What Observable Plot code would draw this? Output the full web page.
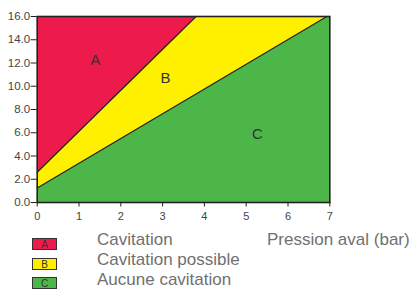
<!DOCTYPE html>
<html><head><meta charset="utf-8">
<script src="https://cdn.jsdelivr.net/npm/d3@7"></script>
<script src="https://cdn.jsdelivr.net/npm/@observablehq/plot@0.6"></script>
<style>
body{margin:0;background:#fff;font-family:"Liberation Sans",Arial,sans-serif;}
#wrap{position:relative;width:414px;height:291px;overflow:hidden;}
#legend{position:absolute;left:0;top:226px;width:414px;height:65px;}
.sw{position:absolute;left:32px;width:23px;height:10px;border:1px solid #333;font-size:10px;line-height:11px;text-align:center;color:#333;}
.lt{position:absolute;font-size:17px;line-height:20px;color:#707070;white-space:nowrap;}
</style></head>
<body><div id="wrap"><div id="chart"></div><div id="legend"></div></div>
<script>
// Boundary lines
const redLine = [{x: 0, y: 2.6}, {x: 3.8, y: 16}];
const yellowLine = [{x: 0, y: 1.25}, {x: 6.93, y: 16}];
const xTicks = [0, 1, 2, 3, 4, 5, 6, 7];
const yTicks = [0, 2, 4, 6, 8, 10, 12, 14, 16];
const regionNames = ["A", "B", "C"];
const regionColors = ["#ED1B4B", "#FFF000", "#4CB748"];
const regionLabels = ["Cavitation", "Cavitation possible", "Aucune cavitation"];
const labelPos = [{x: 1.39, y: 12.2}, {x: 3.07, y: 10.7}, {x: 5.27, y: 5.9}];
const xTitle = "Pression aval (bar)";
const xMax = 7, yMax = 16;

const polys = [
  // A
  [{x:0,y:yMax}, redLine[0], redLine[1]].map(p => ({...p, r: "A"})),
  // B
  [redLine[0], yellowLine[0], yellowLine[1], redLine[1]].map(p => ({...p, r: "B"})),
  // C
  [{x:0,y:0}, {x:xMax,y:0}, {x:xMax,y:yMax}, yellowLine[1], yellowLine[0]].map(p => ({...p, r: "C"}))
].flat();

const labels = regionNames.map((n, i) => ({...labelPos[i], t: n}));

const chart = Plot.plot({
  width: 414, height: 226,
  marginLeft: 36.7, marginRight: 84.7, marginTop: 16, marginBottom: 24,
  style: {fontFamily: '"Liberation Sans", Arial, sans-serif', background: "white"},
  x: {domain: [0, xMax], ticks: xTicks, tickFormat: d => d.toFixed(0), tickSize: 4.5, tickPadding: 5, label: null},
  y: {domain: [0, yMax], ticks: yTicks, tickFormat: d => d.toFixed(1), tickSize: 6, tickPadding: 1, label: null},
  color: {domain: regionNames, range: regionColors},
  marks: [
    Plot.line(polys, {x: "x", y: "y", z: "r", fill: "r", stroke: null}),
    Plot.line(redLine, {x: "x", y: "y", stroke: "#222", strokeWidth: 1.2}),
    Plot.line(yellowLine, {x: "x", y: "y", stroke: "#222", strokeWidth: 1.2}),
    Plot.text(labels, {x: "x", y: "y", text: "t", fontSize: 15, fill: "#333"}),
    Plot.frame({stroke: "#222", strokeWidth: 1.6}),
    Plot.axisX({ticks: xTicks, tickFormat: d => d.toFixed(0), tickSize: 4.5, tickPadding: 5, fontSize: 11, color: "#444", stroke: "#222", label: null}),
    Plot.axisY({ticks: yTicks, tickFormat: d => d.toFixed(1), tickSize: 6, tickPadding: 1, fontSize: 11.5, color: "#444", stroke: "#222", label: null})
  ]
});
document.getElementById("chart").appendChild(chart);

const lg = document.getElementById("legend");
regionNames.forEach((n, i) => {
  const s = document.createElement("div");
  s.className = "sw";
  s.style.top = (12 + i * 19.5) + "px";
  s.style.background = regionColors[i];
  s.textContent = n;
  lg.appendChild(s);
  const t = document.createElement("div");
  t.className = "lt";
  t.style.left = "97px";
  t.style.top = (4 + i * 20) + "px";
  t.textContent = regionLabels[i];
  lg.appendChild(t);
});
const xt = document.createElement("div");
xt.className = "lt";
xt.style.left = "267px";
xt.style.top = "4px";
xt.textContent = xTitle;
lg.appendChild(xt);
</script></body></html>
